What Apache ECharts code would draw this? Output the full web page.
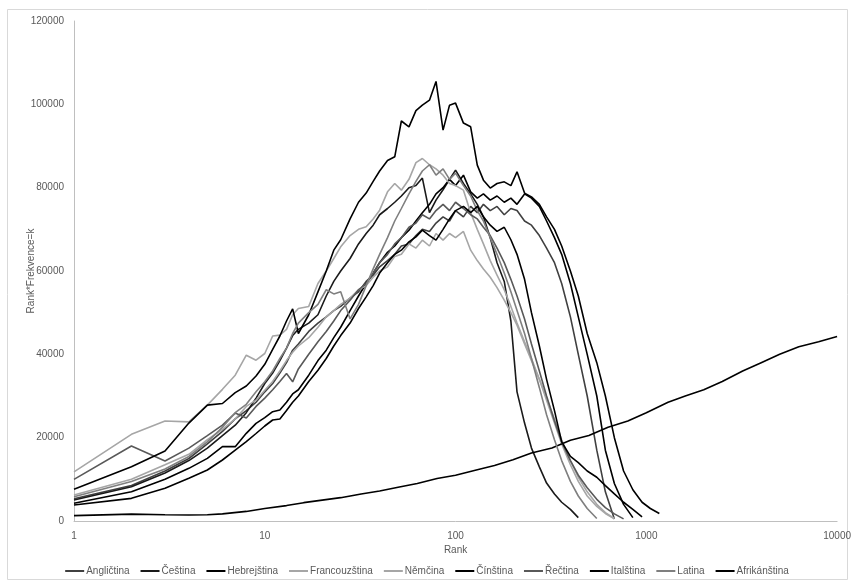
<!DOCTYPE html>
<html><head><meta charset="utf-8">
<script src="https://cdn.jsdelivr.net/npm/echarts/dist/echarts.min.js"></script>
<style>html,body{margin:0;padding:0;background:#fff}#c{width:854px;height:587px}</style>
</head><body><div id="c"></div>
<script>
const ranks = [1,2,3,4,5,6,7,8,9,10,11,12,13,14,15,17,19,21,23,25,28,31,34,37,40,44,48,52,57,62,67,73,79,86,93,100,110,120,130,140,152,165,180,195,210,230,250,275,300,330,360,400,440,490,550,610,680,760,850,950,1050,1170];

const anglictina = [5350,8500,12000,15000,18500,21500,24500,26500,28500,31000,
33000,35500,38000,41000,42500,45500,47500,49000,50500,51500,
53500,55000,57500,59000,61000,62500,64000,66000,66500,68500,
70000,69500,71500,73000,72000,74500,73000,75500,74000,76000,
74500,75500,73500,75000,74500,72000,71000,68500,65500,62000,
57000,49000,40000,30000,17000,7000,500,null,null,null,null,null];

const cestina = [5040,8200,11500,14500,17500,20500,23000,26000,29500,33000,
35500,38500,41500,44500,46000,47500,49500,54000,57500,60000,
63000,66500,69000,71000,73500,75000,76500,78000,80000,80500,
82300,74000,77000,79500,82000,84200,81000,78500,76000,73000,
68000,62000,57500,48000,31000,23500,17500,13000,9100,6500,
4500,2800,800,null,null,null,null,null,null,null,null,null];

const hebrejstina = [4240,7040,10000,12640,15040,17840,17840,21040,23440,24800,
26240,26640,28500,30500,31500,35000,38500,41000,44000,46500,
50500,54000,57000,59500,62000,64500,66000,68000,69800,72000,
74000,76000,78500,80000,82000,80500,83000,79000,77500,78500,
77000,78000,76500,77500,76000,78500,77500,75500,72000,68000,
64000,57000,49000,40000,30000,17000,9000,4000,800,null,null,null];

const francouzstina = [11800,20800,24000,23800,27800,31600,35000,39800,38600,40200,
44400,44600,46000,49500,51000,51500,57000,60000,63000,65800,
68500,70000,70600,72500,74600,79000,81000,79400,82000,86000,
87000,85500,84500,83000,81000,80500,79400,74000,70000,66500,
62500,59000,55500,51500,47500,43000,39000,34000,29500,24500,
19500,14500,10500,7000,4000,2000,600,null,null,null,null,null];

const nemcina = [6240,10000,13500,16000,19500,22000,24500,27500,29000,31400,
33500,36000,38500,40500,42000,44000,46500,49000,50500,52000,
53500,55500,56500,58500,60000,61000,63500,64000,66500,65500,
67400,66000,69000,67400,69000,68000,69500,65000,62500,60500,
58500,56000,53000,50000,47000,42500,38500,34000,29000,23500,
18500,13500,9500,6000,3500,1800,500,null,null,null,null,null];

const rectina = [10000,18000,14400,17500,20500,23000,25900,24700,27500,29500,
31500,33500,35400,33400,36500,40000,43000,45500,48000,50500,
53000,55500,57000,59500,62000,64000,66500,68000,70500,71500,
73500,72500,74500,76000,74500,76500,75000,73500,72500,70500,
68500,65500,62000,58000,54000,48500,42500,36000,30000,24000,
19000,14500,11000,8000,5200,3200,1700,500,null,null,null,null];

const italstina = [7600,13000,16800,23500,27800,28200,30800,32400,34800,37600,
41200,44400,48000,50900,45000,49500,55000,60000,65000,67500,
72500,76500,78700,81500,84000,86500,87400,96000,94600,98500,
99800,101000,105500,93800,99800,100300,95500,94600,85400,81800,
79900,81000,81400,80500,83800,78700,77800,76000,73000,70000,
66000,60000,54000,45000,38000,30000,20000,12000,7500,4500,3000,1800];

const latina = [5840,9500,12500,15500,19000,22500,26000,28000,31000,33400,
36000,39000,41500,45000,47500,50000,52000,55500,54500,55000,
48500,52000,56500,60500,64000,68000,72000,75000,78500,81500,
84000,85500,83000,84500,82000,83500,80500,78000,74500,72000,
68000,64000,59500,55000,50500,45000,39000,32000,25500,19500,
14500,9500,6000,3000,600,null,null,null,null,null,null,null];

const afrikanstina = [3840,5440,7840,10240,12240,14640,17000,19040,21000,22800,
24240,24500,26500,28500,30000,33500,36200,39000,42000,44500,
47500,51000,53800,56500,59500,62000,64000,65000,67000,68200,
69800,68500,67400,70000,72500,74500,75500,74000,75500,73000,
71000,69500,70500,67500,64000,58000,50000,42000,34000,26500,
19000,15500,14000,12000,10500,8500,6500,4500,2800,1000,null,null];

const cinaRanks = [1,2,3,4,5,6,8,10,13,16,20,25,32,40,50,63,80,100,130,160,200,250,320,400,500,630,800,1000,1300,1600,2000,2500,3200,4000,5000,6300,8000,10000];
const cinstina = [1300,1650,1500,1450,1500,1700,2300,3000,3700,4400,5000,5600,6500,7200,8100,9000,10200,11000,12300,13300,14700,16300,17500,19400,20500,22500,24000,26000,28500,30000,31500,33500,36000,38000,40000,41800,43000,44300];

const seriesNames = ['Angličtina','Čeština','Hebrejština','Francouzština','Němčina','Čínština','Řečtina','Italština','Latina','Afrikánština'];
const seriesColors = ['#404040','#1a1a1a','#000000','#a6a6a6','#a6a6a6','#000000','#595959','#000000','#7f7f7f','#000000'];

function pairs(xs, ys) {
  const out = [];
  for (let i = 0; i < xs.length; i++) if (ys[i] != null) out.push([xs[i], ys[i]]);
  return out;
}
const dataSets = [
  pairs(ranks, anglictina), pairs(ranks, cestina), pairs(ranks, hebrejstina),
  pairs(ranks, francouzstina), pairs(ranks, nemcina), pairs(cinaRanks, cinstina),
  pairs(ranks, rectina), pairs(ranks, italstina), pairs(ranks, latina), pairs(ranks, afrikanstina)
];

const font = '"Liberation Sans Narrow", "Liberation Sans", sans-serif';
const chart = echarts.init(document.getElementById('c'), null, {renderer: 'canvas'});
chart.setOption({
  backgroundColor: '#ffffff',
  animation: false,
  textStyle: {fontFamily: font},
  graphic: [{type: 'rect', shape: {x: 7.5, y: 9.5, width: 840, height: 570}, style: {fill: 'none', stroke: '#d9d9d9', lineWidth: 1}, silent: true}],
  grid: {left: 74, right: 16, top: 21, bottom: 66},
  xAxis: {
    type: 'log', logBase: 10, min: 1, max: 10000,
    name: 'Rank', nameLocation: 'middle', nameGap: 24, nameMoveOverlap: false,
    nameTextStyle: {color: '#595959', fontSize: 10, fontFamily: font},
    axisLine: {lineStyle: {color: '#bfbfbf', width: 1}},
    axisTick: {show: false},
    splitLine: {show: false},
    minorSplitLine: {show: false},
    axisLabel: {color: '#595959', fontSize: 10, margin: 10, fontFamily: font, formatter: v => String(Math.round(v))}
  },
  yAxis: {
    type: 'value', min: 0, max: 120000, interval: 20000,
    name: 'Rank*Frekvence=k', nameLocation: 'middle', nameGap: 38, nameMoveOverlap: false,
    nameTextStyle: {color: '#595959', fontSize: 10, fontFamily: font},
    axisLine: {show: true, lineStyle: {color: '#bfbfbf', width: 1}},
    axisTick: {show: false},
    splitLine: {show: false},
    axisLabel: {color: '#595959', fontSize: 10, margin: 10, fontFamily: font, formatter: v => String(v)}
  },
  legend: {
    bottom: 6, left: 'center', icon: 'rect', itemWidth: 19, itemHeight: 2, itemGap: 11,
    textStyle: {color: '#595959', fontSize: 10, fontFamily: font, padding: [0, 0, 0, -3]},
    data: seriesNames
  },
  series: seriesNames.map((n, i) => ({
    name: n, type: 'line', data: dataSets[i],
    symbol: 'none', showSymbol: false, smooth: false,
    lineStyle: {color: seriesColors[i], width: 1.6},
    itemStyle: {color: seriesColors[i]},
    emphasis: {disabled: true}
  }))
});
</script>
</body></html>
